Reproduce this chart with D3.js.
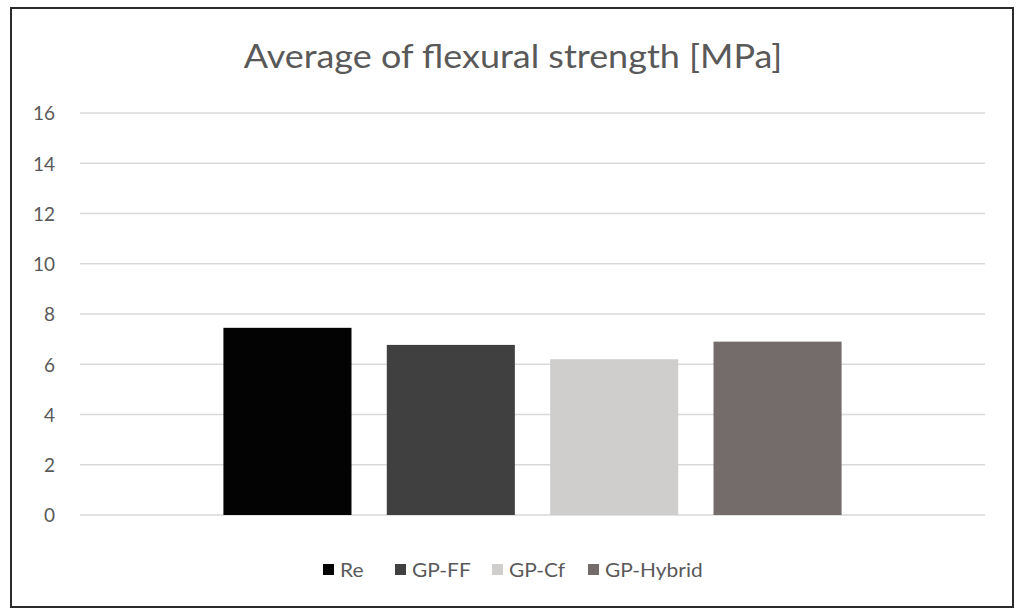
<!DOCTYPE html>
<html>
<head>
<meta charset="utf-8">
<script src="https://cdn.jsdelivr.net/npm/d3@7/dist/d3.min.js"></script>
<style>
  html, body { margin: 0; padding: 0; background: #fff; }
  svg { display: block; }
  text { font-family: Lato, "Open Sans", sans-serif; }
</style>
</head>
<body>
<svg id="chart" width="1019" height="610"></svg>
<script>
// Flexural strength averages per mix
const categories = ["Average"];
const seriesNames = ["Re", "GP-FF", "GP-Cf", "GP-Hybrid"];
const seriesValues = [7.45, 6.77, 6.2, 6.9];
const seriesColors = ["#030303", "#404040", "#d0cdcd", "#736c6a"];
const yTicks = [0, 2, 4, 6, 8, 10, 12, 14, 16];
const titleText = "Average of flexural strength [MPa]";

const svg = d3.select("#chart");

// outer frame
svg.append("rect")
  .attr("x", 11).attr("y", 8)
  .attr("width", 1002).attr("height", 599)
  .attr("fill", "#fff")
  .attr("stroke", "#2b2b2b")
  .attr("stroke-width", 2);

const plot = { left: 80, right: 985, top: 113, bottom: 515 };

const y = d3.scaleLinear().domain([0, 16]).range([plot.bottom, plot.top]);

const x0 = d3.scaleBand()
  .domain(categories)
  .range([plot.left, plot.right])
  .paddingInner(0)
  .paddingOuter(0.232);

const x1 = d3.scaleBand()
  .domain(seriesNames)
  .range([0, x0.bandwidth()])
  .paddingInner(0.216)
  .paddingOuter(0);

// horizontal gridlines
svg.append("g")
  .selectAll("line")
  .data(yTicks)
  .join("line")
  .attr("x1", plot.left).attr("x2", plot.right)
  .attr("y1", d => y(d)).attr("y2", d => y(d))
  .attr("stroke", "#d9d9d9")
  .attr("stroke-width", 1.5);

// y axis labels
const yAxis = d3.axisLeft(y).tickValues(yTicks).tickSize(0).tickPadding(0);
const gy = svg.append("g")
  .attr("transform", `translate(55,0)`)
  .call(yAxis);
gy.select(".domain").remove();
gy.selectAll("text")
  .attr("font-size", 19)
  .attr("fill", "#595959")
  .attr("dy", "0.36em")
  .style("font-family", "Lato, 'Open Sans', sans-serif");

// bars
const data = seriesNames.map((s, i) => ({ cat: categories[0], series: s, value: seriesValues[i], color: seriesColors[i] }));
svg.append("g")
  .selectAll("rect")
  .data(data)
  .join("rect")
  .attr("x", d => x0(d.cat) + x1(d.series))
  .attr("width", x1.bandwidth())
  .attr("y", d => y(d.value))
  .attr("height", d => y(0) - y(d.value))
  .attr("fill", d => d.color);

// title
svg.append("g")
  .attr("transform", "translate(513,68) scale(1.09,1)")
  .append("text")
  .attr("text-anchor", "middle")
  .attr("font-size", 33)
  .attr("fill", "#595959")
  .text(titleText);

// legend
const legendX = [323, 395, 492, 588];
const items = svg.append("g")
  .selectAll("g")
  .data(data)
  .join("g")
  .attr("transform", (d, i) => `translate(${legendX[i]},570)`);
items.append("rect")
  .attr("x", 0).attr("y", -6)
  .attr("width", 11).attr("height", 11)
  .attr("fill", d => d.color);
items.append("text")
  .attr("transform", "translate(17,7) scale(1.1,1)")
  .attr("font-size", 19)
  .attr("fill", "#595959")
  .text(d => d.series);
</script>
</body>
</html>
